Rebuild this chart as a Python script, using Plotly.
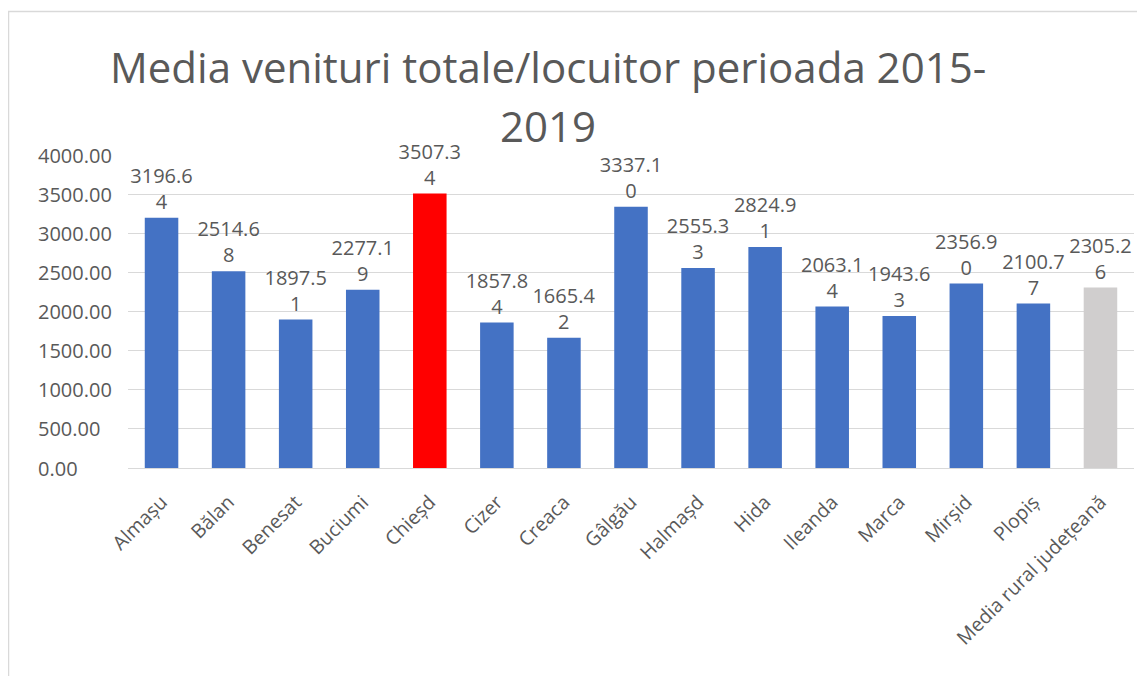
import plotly.graph_objects as go

categories = ["Almașu", "Bălan", "Benesat", "Buciumi", "Chieșd", "Cizer", "Creaca",
              "Gâlgău", "Halmașd", "Hida", "Ileanda", "Marca", "Mirșid", "Plopiș",
              "Media rural județeană"]
values = [3196.64, 2514.68, 1897.51, 2277.19, 3507.34, 1857.84, 1665.42,
          3337.10, 2555.33, 2824.91, 2063.14, 1943.63, 2356.90, 2100.77, 2305.26]
y_ticks = [0, 500, 1000, 1500, 2000, 2500, 3000, 3500, 4000]
title_lines = ["Media venituri totale/locuitor perioada 2015-", "2019"]

highlight = "Chieșd"
average = "Media rural județeană"

OFF = 8  # page body margin
W, H = 1145 - OFF, 676 - OFF
ML, MR, MT, MB = 120, 11, 147, 208
PW, PH = W - ML - MR, H - MT - MB

def px_x(p):
    return (p - OFF - ML) / PW

def px_y(p):
    return (H - MB - (p - OFF)) / PH

def wrap(v):
    s = f"{v:.2f}"
    return s[:6] + "<br>" + s[6:]

colors = ["#FF0000" if c == highlight else "#D0CECE" if c == average else "#4472C4"
          for c in categories]
texts = [wrap(v) for v in values]

FONT = "Open Sans"
GREY = "#595959"

fig = go.Figure()
fig.add_trace(go.Bar(
    x=categories, y=values, marker=dict(color=colors, line=dict(width=0)),
    text=texts, textposition="outside", constraintext="none", cliponaxis=False,
    textfont=dict(family=FONT, size=20, color=GREY),
    hoverinfo="x+y",
))

annotations = []
for t in y_ticks:
    annotations.append(dict(
        xref="paper", yref="y", x=px_x(36), y=t, xanchor="left", yanchor="middle",
        text=f"{t:.2f}", showarrow=False, font=dict(family=FONT, size=20, color=GREY),
    ))

# title lines (screen centre positions of the reference)
title_pos = [(548, 67), (548, 125)]
for line, (cx, cy) in zip(title_lines, title_pos):
    annotations.append(dict(
        xref="paper", yref="paper", x=px_x(cx), y=px_y(cy), xanchor="center",
        yanchor="middle", text=line, showarrow=False,
        font=dict(family=FONT, size=42, color=GREY),
    ))

fig.update_layout(
    width=W, height=H,
    margin=dict(l=ML, r=MR, t=MT, b=MB, pad=0),
    paper_bgcolor="white", plot_bgcolor="white",
    bargap=0.5,
    showlegend=False,
    xaxis=dict(tickangle=-45, tickfont=dict(family=FONT, size=19.5, color=GREY),
               showgrid=False, showline=False, ticks="", automargin=False,
               ticklabelstandoff=18),
    yaxis=dict(range=[0, 4000], tickvals=y_ticks, showticklabels=False,
               gridcolor="#D9D9D9", gridwidth=1.3, zeroline=True,
               zerolinecolor="#D9D9D9", zerolinewidth=1.3, showline=False),
    annotations=annotations,
    shapes=[dict(type="rect", xref="paper", yref="paper",
                 x0=px_x(8.5), x1=px_x(1150), y0=px_y(690), y1=px_y(11.5),
                 line=dict(color="#D9D9D9", width=1.5), fillcolor="rgba(0,0,0,0)",
                 layer="below")],
)

fig.write_html("out.html")
